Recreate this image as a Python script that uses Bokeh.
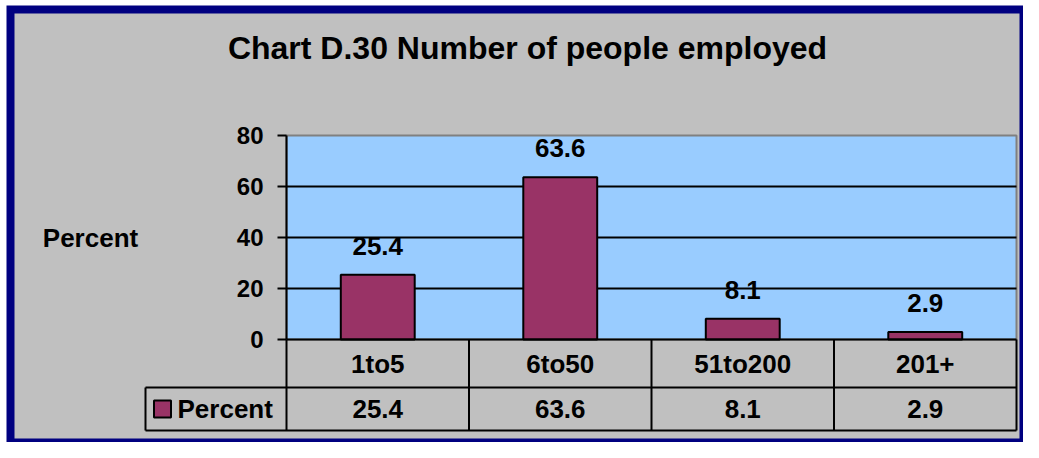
from bokeh.plotting import figure
from bokeh.models import Range1d, FixedTicker, ColumnDataSource
from bokeh.core.properties import value
from bokeh.embed import file_html
from bokeh.resources import INLINE

# ---- data ----
title_text = "Chart D.30 Number of people employed"
categories = ["1to5", "6to50", "51to200", "201+"]
percent = [25.4, 63.6, 8.1, 2.9]
series_name = "Percent"
axis_title = "Percent"
y_ticks = [0, 20, 40, 60, 80]

# ---- layout (pixels inside the figure) ----
W, H = 1023, 442
FRAME_L, FRAME_T = 6, 5            # white strip outside the navy border
BORDER_IN_L, BORDER_IN_T = 14, 13  # inner edge of the navy border
BORDER_IN_R, BORDER_IN_B = 1019, 438
PX_LEFT, PX_RIGHT = 286, 1016      # plot area
PY_TOP, PY_BOTTOM = 135, 339
ROW1_BOTTOM = 387
ROW2_BOTTOM = 430
LEG_LEFT = 145
Y_MAX = y_ticks[-1]

NAVY = "#000080"
GRAY = "#c0c0c0"
BLUE = "#99ccff"
BAR = "#993366"
FONT = value("Liberation Sans")

n = len(categories)
sx = (PX_RIGHT - PX_LEFT) / n
sy = (PY_BOTTOM - PY_TOP) / Y_MAX


def dx(px):
    return (px - PX_LEFT) / sx


def dy(py):
    return (PY_BOTTOM - py) / sy


p = figure(width=W, height=H,
           x_range=Range1d(dx(FRAME_L), dx(W)), y_range=Range1d(dy(H), dy(FRAME_T)),
           output_backend="svg", toolbar_location=None,
           x_axis_location=None,
           min_border_left=FRAME_L, min_border_top=FRAME_T,
           min_border_right=0, min_border_bottom=0,
           background_fill_color=NAVY, border_fill_color="white",
           outline_line_color=None)
p.grid.visible = False

# chart area (inside the navy border)
p.quad(left=[dx(BORDER_IN_L)], right=[dx(BORDER_IN_R)], bottom=[dy(BORDER_IN_B)], top=[dy(BORDER_IN_T)],
       fill_color=GRAY, line_color=None)

# plot area
p.quad(left=[0], right=[n], bottom=[0], top=[Y_MAX], fill_color=BLUE,
       line_color="#808080", line_width=2)
grid_vals = y_ticks[1:-1]
p.segment(x0=[0] * len(grid_vals), x1=[n] * len(grid_vals), y0=grid_vals, y1=grid_vals,
          line_color="black", line_width=2)

# bars
xc = [i + 0.5 for i in range(n)]
src = ColumnDataSource(dict(x=xc, top=percent, lab=[f"{v:.1f}" for v in percent], cat=categories))
p.vbar(x="x", top="top", bottom=0, width=0.405, source=src,
       fill_color=BAR, line_color="black", line_width=2)
p.text(x="x", y="top", text="lab", source=src, y_offset=-29,
       text_align="center", text_baseline="middle", text_font=FONT,
       text_font_style="bold", text_font_size="26px", text_color="black")

# data table
r1 = dy(ROW1_BOTTOM)
r2 = dy(ROW2_BOTTOM)
leg = dx(LEG_LEFT)
p.segment(x0=[0, leg, leg], x1=[n, n, n], y0=[0, r1, r2], y1=[0, r1, r2],
          line_color="black", line_width=2)
vx = list(range(n + 1))
p.segment(x0=vx, x1=vx, y0=[0] * len(vx), y1=[r2] * len(vx), line_color="black", line_width=2)
p.segment(x0=[leg], x1=[leg], y0=[r1], y1=[r2], line_color="black", line_width=2)
p.text(x="x", y=r1 / 2, text="cat", source=src, text_align="center", text_baseline="middle",
       text_font=FONT, text_font_style="bold", text_font_size="26px")
p.text(x="x", y=(r1 + r2) / 2, text="lab", source=src, text_align="center", text_baseline="middle",
       text_font=FONT, text_font_style="bold", text_font_size="26px")
p.scatter(x=[dx(162)], y=[(r1 + r2) / 2], marker="square", size=17,
          fill_color=BAR, line_color="black", line_width=2)
p.text(x=[dx(177)], y=[(r1 + r2) / 2], text=[series_name], text_align="left", text_baseline="middle",
       text_font=FONT, text_font_style="bold", text_font_size="26px")

# titles
p.text(x=[dx(527)], y=[dy(47)], text=[title_text], text_align="center", text_baseline="middle",
       text_font=FONT, text_font_style="bold", text_font_size="32px")
p.text(x=[dx(90)], y=[Y_MAX / 2], text=[axis_title], text_align="center", text_baseline="middle",
       text_font=FONT, text_font_style="bold", text_font_size="26px")

# y axis
ax = p.yaxis[0]
ax.fixed_location = 0
ax.bounds = (0, Y_MAX)
ax.ticker = FixedTicker(ticks=y_ticks)
ax.minor_tick_line_color = None
ax.major_tick_in = 0
ax.major_tick_out = 9
ax.major_tick_line_width = 2
ax.axis_line_width = 2
ax.axis_line_color = "black"
ax.major_label_standoff = 14
ax.major_label_text_font = "Liberation Sans"
ax.major_label_text_font_style = "bold"
ax.major_label_text_font_size = "24px"
ax.major_label_text_color = "black"

open("out.html", "w").write(file_html(p, INLINE))
